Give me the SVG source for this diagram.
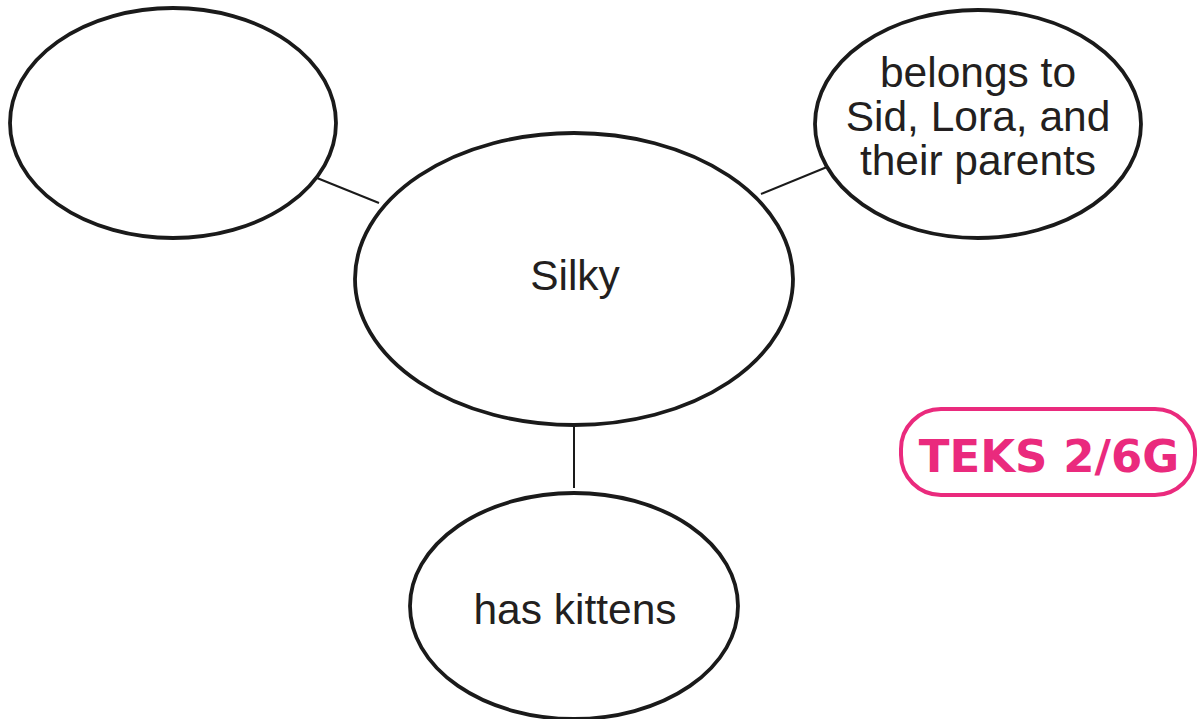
<svg xmlns="http://www.w3.org/2000/svg" width="1197" height="719" viewBox="0 0 1197 719">
<style>
.node{fill:#fff;stroke:#1a1a1a;stroke-width:3.8}
.lbl{font-family:"Liberation Sans",Arial,sans-serif;font-size:42.5px;fill:#231f20;text-anchor:middle}
.conn line{stroke:#1a1a1a;stroke-width:2}
.badge{fill:#fff;stroke:#ea2a7d;stroke-width:4}
.badgetxt{font-family:"DejaVu Sans",Verdana,sans-serif;font-weight:bold;font-size:45px;fill:#ea2a7d;text-anchor:middle}
</style>
<rect width="1197" height="719" fill="#fff"/>
<g id="connectors" class="conn">
<line x1="317" y1="178" x2="379" y2="203"/>
<line x1="761" y1="194" x2="827" y2="167"/>
<line x1="574" y1="425" x2="574" y2="488"/>
</g>
<g id="node-empty"><ellipse class="node" cx="173" cy="123" rx="163" ry="115"/></g>
<g id="node-silky"><ellipse class="node" cx="574" cy="279" rx="219" ry="146"/><text class="lbl" x="575" y="290">Silky</text></g>
<g id="node-belongs"><ellipse class="node" cx="978" cy="124" rx="163" ry="114"/>
<text class="lbl" x="978" y="87">belongs to</text>
<text class="lbl" x="978" y="131">Sid, Lora, and</text>
<text class="lbl" x="978" y="175">their parents</text></g>
<g id="node-kittens"><ellipse class="node" cx="574" cy="606" rx="164" ry="113"/><text class="lbl" x="575" y="624">has kittens</text></g>
<g id="badge"><rect class="badge" x="901" y="409" width="294" height="86" rx="40"/><text class="badgetxt" x="1049" y="472">TEKS 2/6G</text></g>
</svg>
